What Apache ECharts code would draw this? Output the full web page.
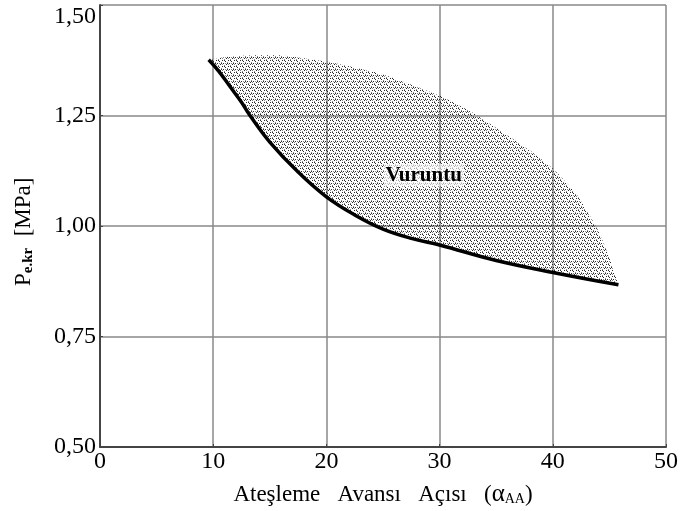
<!DOCTYPE html>
<html>
<head>
<meta charset="utf-8">
<script src="https://cdn.jsdelivr.net/npm/echarts@6/dist/echarts.min.js"></script>
<style>
  html, body { margin: 0; padding: 0; background: #fff; }
  #chart { width: 682px; height: 511px; }
</style>
</head>
<body>
<div id="chart"></div>
<script>
  // lower limit curve (solid line)
  var lowerX = [9.6, 10.5, 11.5, 12.5, 13.25, 15, 17.5, 20, 22.5, 25, 27.5, 30, 35, 40, 45.8]
  var lowerY = [1.376, 1.35, 1.315, 1.28, 1.25, 1.19, 1.122, 1.066, 1.025, 0.993, 0.972, 0.957, 0.922, 0.895, 0.867]
  // upper edge of the knock (Vuruntu) zone
  var upperX = [9.6, 11, 13, 16, 20, 25, 30, 33, 36, 38, 40, 42, 43, 44, 45, 45.8]
  var upperY = [1.376, 1.382, 1.386, 1.386, 1.372, 1.343, 1.295, 1.255, 1.205, 1.17, 1.13, 1.075, 1.035, 0.99, 0.93, 0.867]
  var xTicks = [0, 10, 20, 30, 40, 50]
  var yTicks = [0.5, 0.75, 1.0, 1.25, 1.5]
  var zoneLabel = { x: 28.6, y: 1.115, text: 'Vuruntu' }

  var serif = '"Liberation Serif", "DejaVu Serif", serif'

  // stipple texture for the knock zone
  function makeStipple() {
    var c = document.createElement('canvas')
    c.width = 6
    c.height = 6
    var ctx = c.getContext('2d')
    ctx.fillStyle = 'rgba(20,20,20,0.9)'
    ctx.fillRect(0, 0, 1, 1)
    ctx.fillRect(3, 1, 1, 1)
    ctx.fillRect(1, 3, 1, 1)
    ctx.fillRect(4, 4, 1, 1)
    ctx.fillRect(2, 0, 1, 1)
    ctx.fillRect(5, 3, 1, 1)
    ctx.fillStyle = 'rgba(40,40,40,0.55)'
    ctx.fillRect(2, 5, 1, 1)
    ctx.fillRect(5, 2, 1, 1)
    ctx.fillRect(0, 4, 1, 1)
    ctx.fillRect(3, 3, 1, 1)
    return c
  }
  var stipple = makeStipple()

  var lowerData = lowerX.map(function (x, i) { return [x, lowerY[i]] })
  var upperData = upperX.map(function (x, i) { return [x, upperY[i]] })
  var zonePoly = upperData.concat(lowerData.slice().reverse())

  var chart = echarts.init(document.getElementById('chart'))
  chart.setOption({
    animation: false,
    backgroundColor: '#fff',
    grid: { left: 100, right: 16, top: 5, bottom: 64, outerBoundsMode: 'none', containLabel: false },
    xAxis: {
      type: 'value',
      min: 0,
      max: 50,
      interval: 10,
      name: '{t|Ateşleme   Avansı   Açısı   (}{a|α}{s|AA}{t|)}',
      nameLocation: 'middle',
      nameGap: 35,
      nameTextStyle: {
        rich: {
          t: { fontFamily: serif, fontSize: 23, color: '#000' },
          a: { fontFamily: serif, fontSize: 25, color: '#000' },
          s: { fontFamily: serif, fontSize: 14, color: '#000', padding: [9, 0, 0, 0] }
        }
      },
      axisLine: { lineStyle: { color: '#444', width: 2 } },
      axisTick: { inside: true, length: 3, lineStyle: { color: '#444' } },
      axisLabel: { fontFamily: serif, fontSize: 24, color: '#000', margin: 3 },
      splitLine: { lineStyle: { color: '#888', width: 1.5 } }
    },
    yAxis: {
      type: 'value',
      min: 0.5,
      max: 1.5,
      interval: 0.25,
      name: '{p|P}{s|e.kr}{p|  [MPa]  }',
      nameLocation: 'middle',
      nameGap: 64,
      nameTextStyle: {
        rich: {
          p: { fontFamily: serif, fontSize: 23, color: '#000' },
          s: { fontFamily: serif, fontSize: 15, fontWeight: 'bold', color: '#000', padding: [9, 0, 0, 0] }
        }
      },
      axisLine: { lineStyle: { color: '#444', width: 2 } },
      axisTick: { inside: true, length: 3, lineStyle: { color: '#444' } },
      axisLabel: {
        fontFamily: serif, fontSize: 24, color: '#000', margin: 4,
        verticalAlignMaxLabel: 'top',
        formatter: function (v) { return v.toFixed(2).replace('.', ',') }
      },
      splitLine: { lineStyle: { color: '#888', width: 1.5 } }
    },
    series: [
      {
        type: 'custom',
        data: [0],
        z: 3,
        renderItem: function (params, api) {
          return {
            type: 'polygon',
            shape: { points: zonePoly.map(function (p) { return api.coord(p) }), smooth: 0.15 },
            style: { fill: { image: stipple, repeat: 'repeat' } }
          }
        }
      },
      {
        type: 'line',
        data: lowerData,
        smooth: 0.4,
        showSymbol: false,
        z: 4,
        lineStyle: { color: '#000', width: 3.5 }
      },
      {
        type: 'scatter',
        data: [[zoneLabel.x, zoneLabel.y]],
        symbolSize: 0,
        z: 5,
        itemStyle: { opacity: 1 },
        label: {
          show: true,
          position: 'inside',
          formatter: zoneLabel.text,
          fontFamily: serif,
          fontSize: 21,
          fontWeight: 'bold',
          color: '#000',
          opacity: 1,
          textBorderWidth: 0,
          backgroundColor: 'rgba(255,255,255,0.6)',
          padding: [1, 2]
        }
      }
    ]
  })
</script>
</body>
</html>
